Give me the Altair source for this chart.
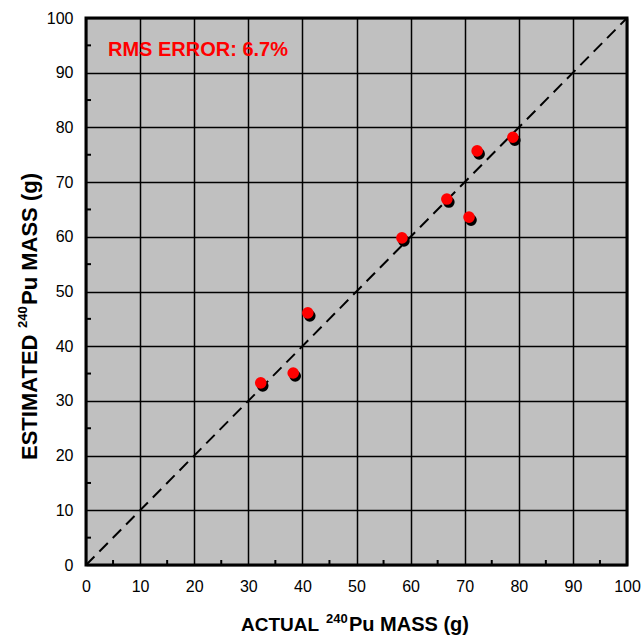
import altair as alt
import pandas as pd

# Data
actual = [32.3, 38.3, 41.0, 58.4, 66.7, 70.8, 72.3, 78.9]
estimated = [33.3, 35.1, 46.1, 59.8, 66.9, 63.6, 75.7, 78.2]
diag_x = [0, 100]
diag_y = [0, 100]
tick_values = list(range(0, 101, 10))
minor_values = list(range(5, 100, 10))
rms_label = "RMS ERROR: 6.7%"

FONT = "Liberation Sans"
W, H = 541, 547

pts = pd.DataFrame({"actual": actual, "estimated": estimated})
diag = pd.DataFrame({"x": diag_x, "y": diag_y})
minor = pd.DataFrame({"v": minor_values})
one = pd.DataFrame({"a": [0]})

xscale = alt.Scale(domain=[0, 100], nice=False)
yscale = alt.Scale(domain=[0, 100], nice=False)

xaxis = alt.Axis(values=tick_values, grid=True, gridColor="black", gridWidth=1.5,
                 gridOpacity=1, ticks=False, domain=False, labelFontSize=16,
                 labelFont=FONT, labelColor="black", labelPadding=13, labelFlush=False,
                 labelOverlap=False, title=None)
yaxis = alt.Axis(values=tick_values, grid=True, gridColor="black", gridWidth=1.5,
                 gridOpacity=1, ticks=False, domain=False, labelFontSize=16,
                 labelFont=FONT, labelColor="black", labelPadding=13, labelFlush=False,
                 labelOverlap=False, title=None)

diag_line = alt.Chart(diag).mark_line(color="black", strokeWidth=2, strokeDash=[12, 7]).encode(
    x=alt.X("x:Q", scale=xscale, axis=xaxis),
    y=alt.Y("y:Q", scale=yscale, axis=yaxis),
)

minor_x = alt.Chart(minor).mark_rule(color="black", strokeWidth=2).encode(
    x=alt.X("v:Q", scale=xscale), y=alt.value(H), y2=alt.value(H - 5)
)
minor_y = alt.Chart(minor).mark_rule(color="black", strokeWidth=2).encode(
    y=alt.Y("v:Q", scale=yscale), x=alt.value(0), x2=alt.value(5)
)

shadow = alt.Chart(pts).mark_circle(color="black", opacity=1, size=135, xOffset=2, yOffset=3).encode(
    x=alt.X("actual:Q", scale=xscale), y=alt.Y("estimated:Q", scale=yscale)
)
dots = alt.Chart(pts).mark_circle(color="#ff0000", opacity=1, size=135).encode(
    x=alt.X("actual:Q", scale=xscale), y=alt.Y("estimated:Q", scale=yscale)
)

def txt(s, x, y, size, angle=0, color="black", baseline="alphabetic"):
    return alt.Chart(one).mark_text(text=s, font=FONT, fontWeight="bold", fontSize=size,
                                    align="left", baseline=baseline, angle=angle,
                                    color=color).encode(x=alt.value(x), y=alt.value(y))

rms = txt(rms_label, 22, 32, 20, color="#ff0000", baseline="middle")

xt1 = txt("ACTUAL", 155, 613, 19)
xt2 = txt("240", 240, 605, 13)
xt3 = txt("Pu MASS (g)", 263, 613, 20)

yt1 = txt("ESTIMATED", -49, 442, 22, angle=270)
yt2 = txt("240", -59, 310, 13, angle=270)
yt3 = txt("Pu MASS (g)", -49, 287, 22, angle=270)

chart = alt.layer(diag_line, minor_x, minor_y, shadow, dots, rms,
                  xt1, xt2, xt3, yt1, yt2, yt3).properties(
    width=W, height=H,
    autosize=alt.AutoSizeParams(type="none"),
    padding={"left": 86, "top": 18, "right": 14, "bottom": 73},
    background="white",
).configure_view(fill="#c0c0c0", stroke="black", strokeWidth=3)

chart.save("out.html", embed_options={"renderer": "svg", "actions": False})
